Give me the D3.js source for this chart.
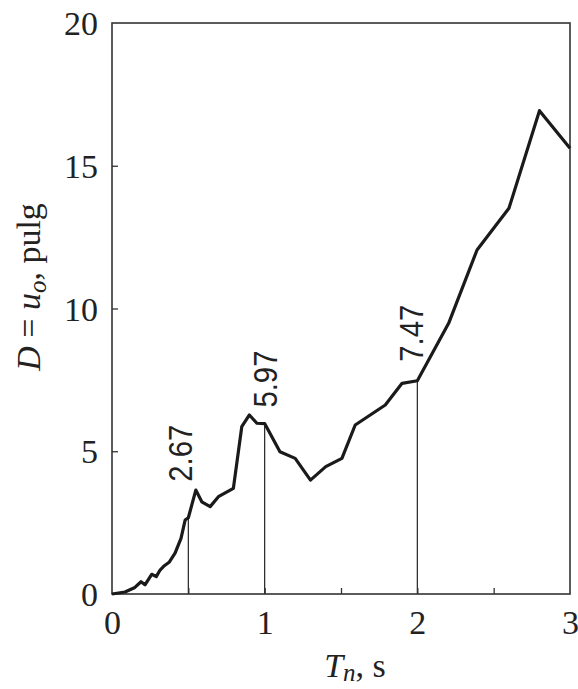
<!DOCTYPE html>
<html>
<head>
<meta charset="utf-8">
<script src="https://cdn.jsdelivr.net/npm/d3@7"></script>
<style>
  html, body { margin: 0; padding: 0; background: #fff; }
  svg { display: block; }
</style>
</head>
<body>
<script>
// Spectral displacement vs natural period
const periods = [0, 0.085, 0.15, 0.19, 0.216, 0.26, 0.29, 0.315, 0.343, 0.374, 0.413, 0.452, 0.479, 0.5, 0.549, 0.588, 0.643, 0.697, 0.795, 0.85, 0.90, 0.949, 1.0, 1.10, 1.20, 1.30, 1.40, 1.506, 1.593, 1.79, 1.90, 2.0, 2.205, 2.391, 2.60, 2.80, 3.0];
const displacements = [0, 0.07, 0.23, 0.43, 0.32, 0.69, 0.61, 0.84, 0.99, 1.11, 1.43, 1.95, 2.59, 2.67, 3.64, 3.23, 3.06, 3.41, 3.70, 5.86, 6.27, 5.98, 5.97, 4.98, 4.75, 3.99, 4.46, 4.75, 5.92, 6.62, 7.38, 7.47, 9.48, 12.05, 13.51, 16.93, 15.61];

// Marked periods and their displacement values
const markedT = [0.5, 1, 2];
const markedD = [2.67, 5.97, 7.47];
const markedText = ["2.67", "5.97", "7.47"];

const xTickLabels = [0, 1, 2, 3];
const xInnerTicks = [0.5, 1, 1.5, 2, 2.5];
const yTickLabels = [0, 5, 10, 15, 20];

const W = 578, H = 689;
const margin = { left: 112, right: 8, top: 23, bottom: 95 };

const svg = d3.select("body").append("svg")
  .attr("width", W).attr("height", H);

const x = d3.scaleLinear().domain([0, 3]).range([margin.left, W - margin.right]);
const y = d3.scaleLinear().domain([0, 20]).range([H - margin.bottom, margin.top]);

const serif = "'Liberation Serif', 'Times New Roman', serif";
const sans = "'Liberation Sans', Arial, sans-serif";
const frameColor = "#333";

// vertical guide lines from the axis up to the curve
svg.append("g").selectAll("line")
  .data(markedT)
  .join("line")
  .attr("x1", d => x(d)).attr("x2", d => x(d))
  .attr("y1", y(0))
  .attr("y2", (d, i) => y(markedD[i]))
  .attr("stroke", "#222").attr("stroke-width", 1.2);

// inner ticks on the bottom axis
const xAxisInner = d3.axisBottom(x).tickValues(xInnerTicks).tickSize(-6).tickFormat("");
const gxi = svg.append("g").attr("transform", `translate(0,${y(0)})`).call(xAxisInner);
gxi.select(".domain").remove();
gxi.selectAll("line").attr("stroke", frameColor).attr("stroke-width", 1.3);

// inner ticks on the left axis
const yAxisInner = d3.axisLeft(y).tickValues([5, 10, 15]).tickSize(-6).tickFormat("");
const gyi = svg.append("g").attr("transform", `translate(${x(0)},0)`).call(yAxisInner);
gyi.select(".domain").remove();
gyi.selectAll("line").attr("stroke", frameColor).attr("stroke-width", 1.3);

// tick labels
const gx = svg.append("g").attr("transform", `translate(0,${y(0)})`)
  .call(d3.axisBottom(x).tickValues(xTickLabels).tickSize(0).tickPadding(0).tickFormat(d3.format("d")));
gx.select(".domain").remove();
gx.selectAll("text")
  .attr("y", 40).attr("dy", 0)
  .attr("font-family", serif).attr("font-size", 34).attr("fill", "#222");

const gy = svg.append("g").attr("transform", `translate(${x(0)},0)`)
  .call(d3.axisLeft(y).tickValues(yTickLabels).tickSize(0).tickPadding(0).tickFormat(d3.format("d")));
gy.select(".domain").remove();
gy.selectAll("text")
  .attr("x", -14).attr("dy", "0.34em")
  .attr("font-family", serif).attr("font-size", 34).attr("fill", "#222");

// frame
svg.append("rect")
  .attr("x", x(0)).attr("y", y(20))
  .attr("width", x(3) - x(0)).attr("height", y(0) - y(20))
  .attr("fill", "none").attr("stroke", frameColor).attr("stroke-width", 1.6);

// spectrum curve
const line = d3.line().x(d => x(d[0])).y(d => y(d[1]));
svg.append("path")
  .datum(periods.map((t, i) => [t, displacements[i]]))
  .attr("d", line)
  .attr("fill", "none").attr("stroke", "#1a1a1a")
  .attr("stroke-width", 3.2).attr("stroke-linejoin", "round");

// value labels above the guide lines
const labelOffsets = [[4, 36], [12, 16], [6, 19]];
svg.append("g").selectAll("text")
  .data(markedText)
  .join("text")
  .attr("transform", (d, i) => `translate(${x(markedT[i]) + labelOffsets[i][0]},${y(markedD[i]) - labelOffsets[i][1]}) rotate(-90)`)
  .attr("font-family", sans).attr("font-size", 34)
  .attr("textLength", 57).attr("lengthAdjust", "spacingAndGlyphs")
  .attr("fill", "#222")
  .text(d => d);

// axis titles
const xt = svg.append("text")
  .attr("x", 355).attr("y", 677)
  .attr("text-anchor", "middle")
  .attr("font-family", serif).attr("font-size", 34).attr("fill", "#222");
xt.append("tspan").attr("font-style", "italic").text("T");
xt.append("tspan").attr("font-style", "italic").attr("font-size", 25).attr("dy", 4).text("n");
xt.append("tspan").attr("dy", -4).text(", s");

const yt = svg.append("text")
  .attr("transform", `translate(40,287) rotate(-90)`)
  .attr("text-anchor", "middle")
  .attr("font-family", serif).attr("font-size", 34).attr("fill", "#222");
yt.append("tspan").attr("font-style", "italic").text("D");
yt.append("tspan").text(" = ");
yt.append("tspan").attr("font-style", "italic").text("u");
yt.append("tspan").attr("font-style", "italic").attr("font-size", 25).attr("dy", 6).text("o");
yt.append("tspan").attr("dy", -6).text(", pulg");
</script>
</body>
</html>
